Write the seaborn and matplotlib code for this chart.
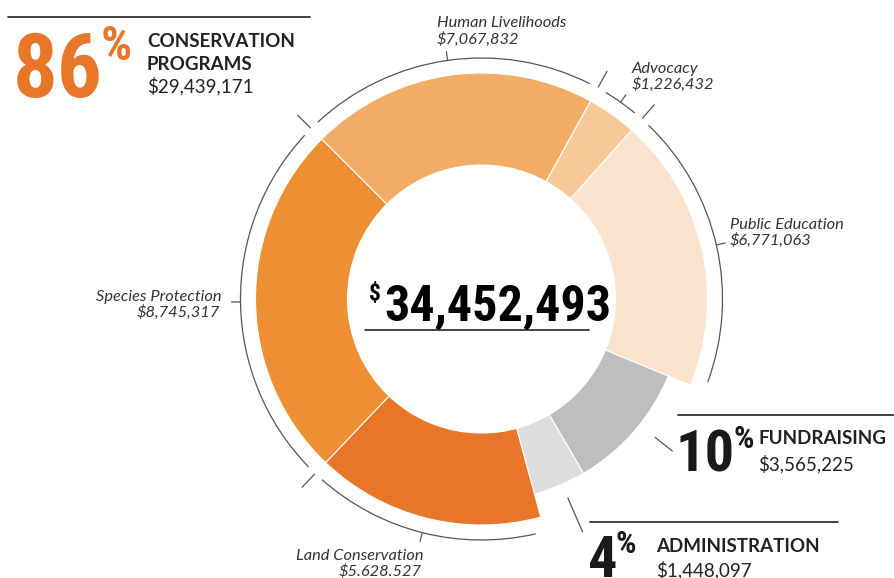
import numpy as np
import matplotlib
matplotlib.use("Agg")
import matplotlib.pyplot as plt
from matplotlib import font_manager
from matplotlib.patches import Wedge, Arc
import seaborn as sns

# data
segments = ["Human Livelihoods", "Advocacy", "Public Education", "Fundraising",
            "Administration", "Land Conservation", "Species Protection"]
amounts = [7067832, 1226432, 6771063, 3565225, 1448097, 5628527, 8745317]
groups = ["program", "program", "program", "fundraising", "administration", "program", "program"]
amount_labels = ["$7,067,832", "$1,226,432", "$6,771,063", "$3,565,225",
                 "$1,448,097", "$5.628.527", "$8,745,317"]
group_names = ["program", "fundraising", "administration"]
group_titles = [["CONSERVATION", "PROGRAMS"], ["FUNDRAISING"], ["ADMINISTRATION"]]
group_pcts = ["86", "10", "4"]

colors = ["#F2AC66", "#F7C999", "#FAE3CD", "#BDBEC0", "#DCDDDF", "#E87628", "#EE8F33"]
palette = sns.color_palette(colors)

sns.set_theme(style="white")


def pick(names):
    for n in names:
        try:
            font_manager.findfont(n, fallback_to_default=False)
            return n
        except Exception:
            pass
    return "DejaVu Sans"


narrow = pick(["Liberation Sans Narrow", "DejaVu Sans Condensed", "Roboto Condensed", "Liberation Sans"])
label_font = pick(["Lato", "Open Sans", "DejaVu Sans"])
plt.rcParams["font.family"] = [label_font, "DejaVu Sans"]

fig = plt.figure(figsize=(8.94, 5.78), dpi=100)
ax = fig.add_axes([0, 0, 1, 1])
ax.set_xlim(0, 894)
ax.set_ylim(578, 0)
ax.axis("off")

cx, cy = 481.5, 299
r_in = 134
r_out = {"program": 226, "fundraising": 202, "administration": 202}
r_arc = 241
line_col = "#555555"
text_col = "#333333"

total = sum(amounts)
start = -45
edges = start + 360 * np.concatenate([[0], np.cumsum(amounts)]) / total


def pt(phi, r):
    a = np.deg2rad(phi)
    return cx + r * np.sin(a), cy - r * np.cos(a)


for i, seg in enumerate(segments):
    ro = r_out[groups[i]]
    ax.add_patch(Wedge((cx, cy), ro, edges[i] - 90, edges[i + 1] - 90, width=ro - r_in,
                       facecolor=palette[i], edgecolor="white", linewidth=0.8))

# bracket arcs round the programme segments
gap = 2.2
for i, seg in enumerate(segments):
    if groups[i] != "program":
        continue
    ax.add_patch(Arc((cx, cy), 2 * r_arc, 2 * r_arc, theta1=edges[i] - 90 + gap,
                     theta2=edges[i + 1] - 90 - gap, color=line_col, linewidth=0.9))
    mid = (edges[i] + edges[i + 1]) / 2
    x0, y0 = pt(mid, r_arc)
    x1, y1 = pt(mid, r_arc + 9)
    ax.plot([x0, x1], [y0, y1], color=line_col, linewidth=0.9)
    nxt = (i + 1) % len(segments)
    if groups[nxt] == "program":
        b = edges[i + 1]
        x0, y0 = pt(b, r_arc + 1)
        x1, y1 = pt(b, r_arc + 19)
        ax.plot([x0, x1], [y0, y1], color=line_col, linewidth=0.9)

# leader lines for the grey segments
for i, (r0, r1, d) in zip([3, 4], [(222, 244, -2.5), (217, 254, -0.7)]):
    mid = (edges[i] + edges[i + 1]) / 2 + d
    x0, y0 = pt(mid, r0)
    x1, y1 = pt(mid, r1)
    ax.plot([x0, x1], [y0, y1], color=line_col, linewidth=0.9)

# segment labels
label_pos = {
    "Human Livelihoods": (437, 27, 44, "left"),
    "Advocacy": (632, 73, 89, "left"),
    "Public Education": (730, 229, 245, "left"),
    "Species Protection": (222, 301, 317, "right"),
    "Land Conservation": (424, 560, 576, "right"),
}
for i, seg in enumerate(segments):
    if seg not in label_pos:
        continue
    x, y1, y2, ha = label_pos[seg]
    ax.text(x, y1, seg, ha=ha, va="baseline", fontsize=11.8, style="italic", color=text_col)
    ax.text(x - (2 if ha == "right" else 0), y2, amount_labels[i], ha=ha, va="baseline",
            fontsize=11.8, style="italic", color=text_col)

renderer = fig.canvas.get_renderer()


def right_edge(t):
    bb = t.get_window_extent(renderer)
    return ax.transData.inverted().transform((bb.x1, bb.y0))[0]


# centre total
ax.text(369, 300, "$", fontfamily=narrow, fontweight="bold", fontsize=17, color="black",
        ha="left", va="baseline")
ax.text(384, 321, f"{total:,}", fontfamily=narrow, fontweight="bold", fontsize=36,
        color="black", ha="left", va="baseline")
ax.plot([365, 589], [330, 330], color="#222222", linewidth=1.2)

# group headlines
group_totals = [sum(a for a, g in zip(amounts, groups) if g == name) for name in group_names]
head = [
    # line y, x0, x1, number x, number baseline, pct baseline, title x, title baseline, amount baseline, size, colour
    (17, 8, 310, 13, 97, 60, 147, 47, 92, 64, "#E87628"),
    (415, 678, 894, 676, 472, 448, 758, 444, 470, 42, "#1a1a1a"),
    (522, 590, 838, 588, 577, 553, 656, 552, 576, 42, "#1a1a1a"),
]
for k, (ly, lx0, lx1, nx, nb, pb, tx, tb, ab, size, col) in enumerate(head):
    ax.plot([lx0, lx1], [ly, ly], color="#222222", linewidth=1.2)
    num = ax.text(nx, nb, group_pcts[k], fontfamily=narrow, fontweight="bold", fontsize=size,
                  color=col, ha="left", va="baseline")
    ax.text(right_edge(num) - 2, pb, "%", fontfamily=narrow, fontweight="bold",
            fontsize=size * 0.55, color=col, ha="left", va="baseline")
    for j, line in enumerate(group_titles[k]):
        ax.text(tx, tb + 23 * j, line, fontweight="bold", fontsize=13.5,
                color="#222222", ha="left", va="baseline")
    yb = ab if len(group_titles[k]) == 1 else tb + 23 * len(group_titles[k]) - 1
    ax.text(tx, yb, f"${group_totals[k]:,}", fontsize=13.5, color="#222222",
            ha="left", va="baseline")

fig.savefig("out.png", dpi=100)
